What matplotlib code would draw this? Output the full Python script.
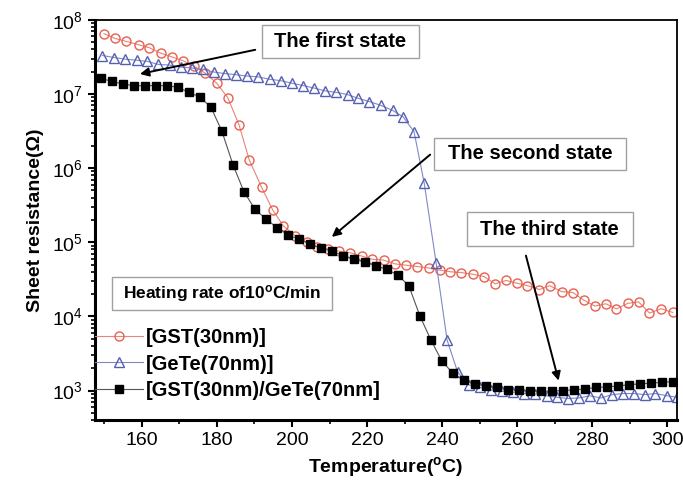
import numpy as np
import matplotlib
matplotlib.use("Agg")
import matplotlib.pyplot as plt
from matplotlib.patches import Rectangle
from matplotlib.ticker import LogLocator, MultipleLocator, NullFormatter

plt.rcParams['font.family'] = ['Liberation Sans', 'DejaVu Sans']
plt.rcParams['mathtext.fontset'] = 'custom'
plt.rcParams['mathtext.rm'] = 'Liberation Sans'
plt.rcParams['mathtext.bf'] = 'Liberation Sans:bold'

# GST(30nm)
t_gst = [149.9, 152.9, 155.9, 159.2, 162.0, 165.0, 168.0, 171.0, 174.0, 176.9,
         179.9, 182.9, 185.9, 188.6, 191.9, 194.9, 197.7, 200.8, 203.9, 206.6,
         209.5, 212.4, 215.5, 218.6, 221.3, 224.4, 227.5, 230.4, 233.4, 236.4,
         239.3, 242.2, 245.1, 248.1, 251.1, 254.1, 257.0, 260.0, 262.7, 265.9,
         268.6, 271.8, 274.8, 277.7, 280.6, 283.6, 286.4, 289.4, 292.3, 295.2,
         298.3, 301.4]
r_gst = [6.5e7, 5.6e7, 5.1e7, 4.6e7, 4.2e7, 3.55e7, 3.16e7, 2.8e7, 2.35e7, 1.9e7,
         1.4e7, 8.9e6, 3.8e6, 1.29e6, 5.5e5, 2.7e5, 1.66e5, 1.23e5, 1.0e5, 8.7e4,
         8.1e4, 7.6e4, 7.2e4, 6.5e4, 5.9e4, 5.75e4, 5.1e4, 4.9e4, 4.7e4, 4.5e4,
         4.2e4, 4.0e4, 3.9e4, 3.7e4, 3.45e4, 2.75e4, 3.05e4, 2.8e4, 2.6e4, 2.3e4,
         2.6e4, 2.16e4, 2.1e4, 1.66e4, 1.38e4, 1.48e4, 1.26e4, 1.5e4, 1.57e4, 1.11e4,
         1.27e4, 1.13e4]

# GeTe(70nm)
t_gete = [149.5, 152.6, 155.5, 158.6, 161.4, 164.4, 167.5, 170.3, 173.3, 176.4,
          179.3, 182.2, 185.1, 188.1, 191.0, 194.0, 197.0, 199.9, 202.9, 205.9,
          208.8, 211.8, 214.8, 217.7, 220.6, 223.7, 226.8, 229.6, 232.5, 235.2,
          238.4, 241.3, 244.1, 247.1, 250.0, 253.0, 256.0, 258.8, 261.7, 264.8,
          267.8, 270.6, 273.5, 276.5, 279.3, 282.3, 285.3, 288.2, 291.0, 293.9,
          296.8, 299.9, 302.6]
r_gete = [3.3e7, 3.1e7, 2.95e7, 2.85e7, 2.75e7, 2.5e7, 2.45e7, 2.3e7, 2.24e7, 2.14e7,
          1.97e7, 1.88e7, 1.82e7, 1.74e7, 1.70e7, 1.58e7, 1.51e7, 1.40e7, 1.30e7, 1.20e7,
          1.10e7, 1.05e7, 9.8e6, 8.7e6, 7.9e6, 7.0e6, 6.0e6, 4.9e6, 3.1e6, 6.3e5,
          5.2e4, 4.8e3, 1.78e3, 1.19e3, 1.10e3, 1.02e3, 980, 955, 912, 900,
          850, 810, 780, 795, 850, 795, 880, 912, 912, 880,
          912, 850, 810]

# GST(30nm)/GeTe(70nm)
t_stack = [149.1, 152.0, 155.0, 157.9, 160.8, 163.8, 166.7, 169.6, 172.5, 175.5,
           178.4, 181.3, 184.3, 187.2, 190.1, 193.1, 196.0, 198.9, 201.8, 204.8,
           207.7, 210.6, 213.6, 216.5, 219.4, 222.4, 225.3, 228.2, 231.1, 234.1,
           237.0, 239.9, 242.9, 245.8, 248.7, 251.7, 254.6, 257.5, 260.5, 263.4,
           266.3, 269.2, 272.2, 275.1, 278.0, 281.0, 283.9, 286.8, 289.8, 292.7,
           295.6, 298.6, 301.5]
r_stack = [1.62e7, 1.48e7, 1.36e7, 1.29e7, 1.29e7, 1.30e7, 1.29e7, 1.23e7, 1.05e7, 9.1e6,
           6.6e6, 3.16e6, 1.10e6, 4.8e5, 2.8e5, 2.04e5, 1.58e5, 1.26e5, 1.10e5, 9.5e4,
           8.3e4, 7.6e4, 6.6e4, 5.9e4, 5.4e4, 4.8e4, 4.3e4, 3.6e4, 2.6e4, 1.0e4,
           4.8e3, 2.5e3, 1.70e3, 1.38e3, 1.23e3, 1.15e3, 1.10e3, 1.02e3, 1.02e3, 980,
           980, 980, 1000, 1020, 1050, 1100, 1120, 1150, 1200, 1230,
           1260, 1290, 1320]

fig = plt.figure(figsize=(6.83, 4.83), dpi=100)
ax = fig.add_axes([0.139, 0.130, 0.852, 0.829])

ax.plot(t_gst, r_gst, '-', color='#e8837a', lw=0.8, marker='o', ms=6.5,
        mfc='none', mec='#e8604f', mew=1.0, label='[GST(30nm)]')
ax.plot(t_gete, r_gete, '-', color='#8088c8', lw=0.8, marker='^', ms=7,
        mfc='none', mec='#5560b0', mew=1.0, label='[GeTe(70nm)]')
ax.plot(t_stack, r_stack, '-', color='#555555', lw=0.8, marker='s', ms=6,
        mfc='black', mec='black', label='[GST(30nm)/GeTe(70nm]')

ax.set_yscale('log')
ax.set_xlim(147.5, 302.5)
ax.set_ylim(10**2.6, 1e8)
ax.xaxis.set_major_locator(MultipleLocator(20))
ax.xaxis.set_minor_locator(MultipleLocator(10))
ax.yaxis.set_major_locator(LogLocator(base=10, numticks=10))
ax.yaxis.set_minor_locator(LogLocator(base=10, subs=np.arange(2, 10), numticks=10))
ax.yaxis.set_minor_formatter(NullFormatter())

ax.tick_params(which='major', direction='out', length=5, width=1.5, labelsize=14)
ax.tick_params(which='minor', direction='out', length=3, width=1.2)
ax.spines['left'].set_linewidth(2.2)
ax.spines['bottom'].set_linewidth(2.2)
ax.spines['top'].set_linewidth(1.3)
ax.spines['right'].set_linewidth(1.3)

ax.set_xlabel('Temperature($\\mathregular{^o}$C)', fontsize=14, fontweight='bold', labelpad=4)
ax.set_ylabel('Sheet resistance(\u03a9)', fontsize=14, fontweight='bold', labelpad=6)


def label_box(x0, y0, w, h, text, size):
    ax.add_patch(Rectangle((x0, y0), w, h, transform=ax.transAxes, fc='white',
                           ec='#a0a0a0', lw=1.0, zorder=4))
    ax.text(x0 + w / 2, y0 + h / 2, text, transform=ax.transAxes, fontsize=size,
            fontweight='bold', ha='center', va='center', zorder=5)


arrow = dict(arrowstyle='-|>', color='black', lw=1.4, mutation_scale=13,
             shrinkA=0, shrinkB=0)

label_box(0.287, 0.905, 0.270, 0.083, 'The first state', 14.5)
ax.annotate('', xy=(159.5, 1.86e7), xytext=(190.2, 3.94e7), arrowprops=arrow)

label_box(0.5825, 0.625, 0.330, 0.080, 'The second state', 14.5)
ax.annotate('', xy=(210.6, 1.18e5), xytext=(236.8, 1.52e6), arrowprops=arrow)

label_box(0.639, 0.435, 0.285, 0.085, 'The third state', 14.5)
ax.annotate('', xy=(271.0, 1.36e3), xytext=(262.3, 6.6e4), arrowprops=arrow)

label_box(0.029, 0.275, 0.378, 0.083, 'Heating rate of10$\\mathregular{^o}$C/min', 12.5)

leg = ax.legend(loc='lower left', bbox_to_anchor=(0.0, 0.05), frameon=False,
                fontsize=14.5, handlelength=2.4, handletextpad=0.15,
                labelspacing=0.38, borderpad=0, borderaxespad=0)
for txt in leg.get_texts():
    txt.set_fontweight('bold')

fig.savefig('out.png', dpi=100)
